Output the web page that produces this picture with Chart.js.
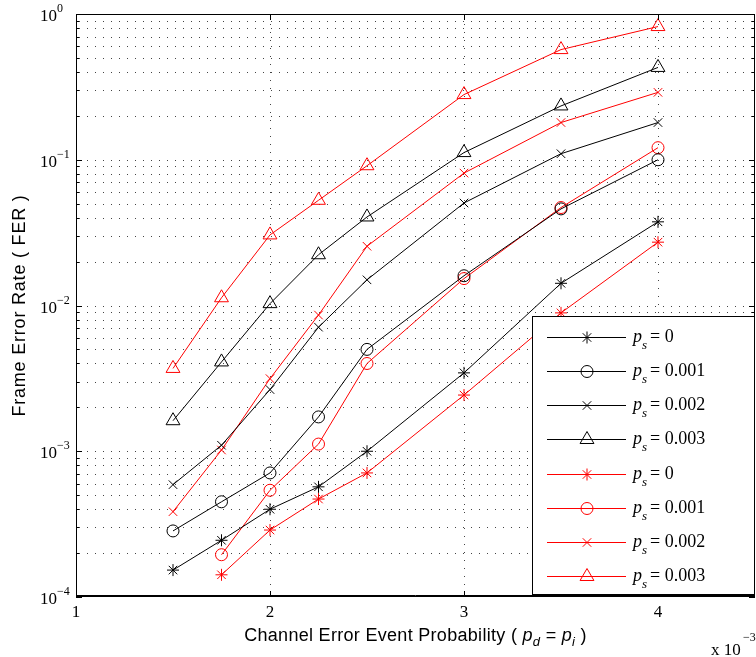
<!DOCTYPE html>
<html><head><meta charset="utf-8">
<script src="https://cdn.jsdelivr.net/npm/chart.js@4.4.1/dist/chart.umd.min.js"></script>
<style>html,body{margin:0;padding:0;background:#fff}#wrap{position:relative;width:756px;height:657px}</style>
</head><body><div id="wrap"><canvas id="c" width="756" height="657"></canvas></div>
<script>
// ---- data ----
const xValues = [1.5, 1.75, 2, 2.25, 2.5, 3, 3.5, 4];
const blackPs0   = [1.53e-4, 2.45e-4, 4.0e-4, 5.7e-4, 1.0e-3, 3.45e-3, 1.42e-2, 3.75e-2];
const blackPs001 = [2.84e-4, 4.5e-4, 7.1e-4, 1.72e-3, 5.0e-3, 1.6e-2, 4.6e-2, 0.1];
const blackPs002 = [5.9e-4, 1.1e-3, 2.65e-3, 7.1e-3, 1.5e-2, 5.05e-2, 0.11, 0.18];
const blackPs003 = [1.62e-3, 4.1e-3, 1.03e-2, 2.23e-2, 4.05e-2, 0.112, 0.234, 0.43];
const redPs0     = [null, 1.42e-4, 2.88e-4, 4.7e-4, 7.1e-4, 2.43e-3, 8.9e-3, 2.72e-2];
const redPs001   = [null, 1.95e-4, 5.4e-4, 1.12e-3, 4.0e-3, 1.53e-2, 4.7e-2, 0.121];
const redPs002   = [3.85e-4, 1.02e-3, 3.15e-3, 8.6e-3, 2.55e-2, 8.1e-2, 0.18, 0.29];
const redPs003   = [3.7e-3, 1.13e-2, 3.05e-2, 5.27e-2, 9.1e-2, 0.28, 0.57, 0.82];
const seriesLabels = ['0', '0.001', '0.002', '0.003', '0', '0.001', '0.002', '0.003'];
const xTickValues = [1, 2, 3, 4];
const xTickLabels = ['1', '2', '3', '4'];
const yTickExps = [0, -1, -2, -3, -4];
const yTitle = 'Frame Error Rate ( FER )';
const xTitle = 'Channel Error Event Probability ( ';

// ---- styles ----
const BLACK = '#000000', RED = '#ff0000';
const seriesData = [blackPs0, blackPs001, blackPs002, blackPs003, redPs0, redPs001, redPs002, redPs003];
const seriesColors = [BLACK, BLACK, BLACK, BLACK, RED, RED, RED, RED];
const seriesMarkers = ['star', 'circle', 'crossRot', 'triangle', 'star', 'circle', 'crossRot', 'triangle'];
const markerRadius = {star: 6, circle: 6, crossRot: 6, triangle: 8};

function toPoints(arr) {
  const pts = [];
  arr.forEach((v, i) => { if (v !== null) pts.push({x: xValues[i], y: v}); });
  return pts;
}

const datasets = seriesData.map((arr, i) => ({
  label: 'p_s = ' + seriesLabels[i],
  data: toPoints(arr),
  borderColor: seriesColors[i],
  borderWidth: 1,
  pointStyle: seriesMarkers[i],
  pointRadius: markerRadius[seriesMarkers[i]],
  pointHoverRadius: markerRadius[seriesMarkers[i]],
  pointBorderColor: seriesColors[i],
  pointBackgroundColor: 'rgba(0,0,0,0)',
  pointBorderWidth: 1,
  fill: false,
  tension: 0
}));

const SERIF = '"Liberation Serif", "Times New Roman", serif';
const SANS = '"Liberation Sans", Arial, sans-serif';

function drawMarker(ctx, style, x, y, r, color) {
  ctx.save();
  ctx.strokeStyle = color; ctx.lineWidth = 1; ctx.setLineDash([]);
  ctx.beginPath();
  if (style === 'circle') {
    ctx.arc(x, y, r, 0, Math.PI * 2);
  } else if (style === 'triangle') {
    const a = Math.PI * 2 / 3;
    ctx.moveTo(x, y - r);
    ctx.lineTo(x + Math.sin(a) * r, y - Math.cos(a) * r);
    ctx.lineTo(x - Math.sin(a) * r, y - Math.cos(a) * r);
    ctx.closePath();
  } else if (style === 'crossRot') {
    const d = Math.cos(Math.PI / 4) * r;
    ctx.moveTo(x - d, y - d); ctx.lineTo(x + d, y + d);
    ctx.moveTo(x - d, y + d); ctx.lineTo(x + d, y - d);
  } else if (style === 'star') {
    ctx.moveTo(x, y - r); ctx.lineTo(x, y + r);
    ctx.moveTo(x - r, y); ctx.lineTo(x + r, y);
    const d = Math.cos(Math.PI / 4) * r;
    ctx.moveTo(x - d, y - d); ctx.lineTo(x + d, y + d);
    ctx.moveTo(x - d, y + d); ctx.lineTo(x + d, y - d);
  }
  ctx.stroke();
  ctx.restore();
}

const gridPlugin = {
  id: 'matlabGrid',
  beforeDatasetsDraw(chart) {
    const {ctx, chartArea: a, scales} = chart;
    const xs = scales.x, ys = scales.y;
    ctx.save();
    ctx.strokeStyle = '#444';
    ctx.lineWidth = 1;
    ctx.setLineDash([1, 7]);
    for (let e = -4; e < 0; e++) {
      for (let m = 1; m <= 9; m++) {
        const v = m * Math.pow(10, e);
        if (e === -4 && m === 1) continue;
        const py = Math.round(ys.getPixelForValue(v)) + 0.5;
        ctx.beginPath(); ctx.moveTo(a.left + 3, py); ctx.lineTo(a.right, py); ctx.stroke();
      }
    }
    xTickValues.forEach(v => {
      if (v <= xs.min || v >= xs.max) return;
      const px = Math.round(xs.getPixelForValue(v)) + 0.5;
      ctx.beginPath(); ctx.moveTo(px, a.top + 2); ctx.lineTo(px, a.bottom); ctx.stroke();
    });
    ctx.restore();
  },
  afterDraw(chart) {
    const {ctx, chartArea: a, scales} = chart;
    const xs = scales.x, ys = scales.y;
    ctx.save();
    ctx.setLineDash([]);
    ctx.strokeStyle = '#000';
    ctx.lineWidth = 1;
    ctx.beginPath();
    for (let e = -4; e <= 0; e++) {
      for (let m = 1; m <= 9; m++) {
        if (e === 0 && m > 1) break;
        const v = m * Math.pow(10, e);
        const py = Math.round(ys.getPixelForValue(v)) + 0.5;
        const len = m === 1 ? 6 : 3;
        ctx.moveTo(a.left, py); ctx.lineTo(a.left + len, py);
        ctx.moveTo(a.right, py); ctx.lineTo(a.right - len, py);
      }
    }
    xTickValues.forEach(v => {
      const px = Math.round(xs.getPixelForValue(v)) + 0.5;
      ctx.moveTo(px, a.bottom); ctx.lineTo(px, a.bottom - 6);
      ctx.moveTo(px, a.top); ctx.lineTo(px, a.top + 6);
    });
    ctx.stroke();
    ctx.strokeRect(a.left + 0.5, a.top + 0.5, a.right - a.left - 1, a.bottom - a.top - 1);
    ctx.beginPath(); ctx.moveTo(a.left, a.bottom - 1.5); ctx.lineTo(a.right, a.bottom - 1.5); ctx.stroke();

    ctx.fillStyle = '#000';
    yTickExps.forEach(e => {
      const py = ys.getPixelForValue(Math.pow(10, e));
      ctx.font = '17px ' + SERIF;
      ctx.textAlign = 'right'; ctx.textBaseline = 'alphabetic';
      ctx.fillText('10', 57, py + 7);
      ctx.font = '12px ' + SERIF;
      ctx.textAlign = 'left';
      ctx.fillText(e === 0 ? '0' : '\u2212' + (-e), 57, py - 2);
    });
    ctx.font = '17px ' + SERIF;
    ctx.textAlign = 'center';
    xTickValues.forEach((v, i) => {
      ctx.fillText(xTickLabels[i], xs.getPixelForValue(v), 617);
    });
    ctx.textAlign = 'left';
    ctx.font = '17px ' + SERIF;
    ctx.fillText('x 10', 711, 655);
    ctx.font = '12px ' + SERIF;
    ctx.fillText('\u22123', 743, 641);

    ctx.save();
    ctx.translate(25, (a.top + a.bottom) / 2);
    ctx.rotate(-Math.PI / 2);
    ctx.font = '18px ' + SANS;
    try { ctx.letterSpacing = '0.8px'; } catch (err) {}
    ctx.textAlign = 'center';
    ctx.fillText(yTitle, 0, 0);
    ctx.restore();

    ctx.save();
    try { ctx.letterSpacing = '0.3px'; } catch (err) {}
    const pieces = [
      {t: xTitle, f: '18px ' + SANS, dy: 0},
      {t: 'p', f: 'italic 18px ' + SANS, dy: 0},
      {t: 'd', f: 'italic 13px ' + SANS, dy: 5},
      {t: ' = ', f: '18px ' + SANS, dy: 0},
      {t: 'p', f: 'italic 18px ' + SANS, dy: 0},
      {t: 'i', f: 'italic 13px ' + SANS, dy: 5},
      {t: ' )', f: '18px ' + SANS, dy: 0}
    ];
    let tw = 0;
    pieces.forEach(p => { ctx.font = p.f; p.w = ctx.measureText(p.t).width; tw += p.w; });
    let cx = (a.left + a.right) / 2 - tw / 2;
    ctx.textAlign = 'left';
    pieces.forEach(p => { ctx.font = p.f; ctx.fillText(p.t, cx, 641 + p.dy); cx += p.w; });
    ctx.restore();

    const L = {left: 532, top: 316, right: 755, bottom: 595};
    ctx.fillStyle = '#fff';
    ctx.fillRect(L.left, L.top, L.right - L.left, L.bottom - L.top);
    ctx.strokeStyle = '#000';
    ctx.strokeRect(L.left + 0.5, L.top + 0.5, L.right - L.left - 1, L.bottom - L.top - 1);
    chart.data.datasets.forEach((ds, i) => {
      const ry = Math.round(337 + i * 34.15) + 0.5;
      ctx.strokeStyle = ds.borderColor;
      ctx.beginPath(); ctx.moveTo(547, ry); ctx.lineTo(626, ry); ctx.stroke();
      drawMarker(ctx, ds.pointStyle, 587, ry, ds.pointRadius, ds.borderColor);
      ctx.fillStyle = '#000';
      ctx.font = 'italic 18px ' + SERIF;
      ctx.fillText('p', 633, ry + 4);
      ctx.font = 'italic 13px ' + SERIF;
      ctx.fillText('s', 642, ry + 11);
      ctx.font = '18px ' + SERIF;
      ctx.fillText('= ' + seriesLabels[i], 650, ry + 4);
    });
    ctx.restore();
  }
};

new Chart(document.getElementById('c'), {
  type: 'line',
  data: {datasets},
  options: {
    responsive: false,
    animation: false,
    devicePixelRatio: 1,
    layout: {autoPadding: false, padding: {left: 0, top: 14, right: 1, bottom: 0}},
    plugins: {legend: {display: false}, tooltip: {enabled: false}, title: {display: false}},
    scales: {
      x: {
        type: 'linear', min: 1, max: 4.5,
        ticks: {display: false}, grid: {display: false}, border: {display: false},
        afterFit(s) { s.height = 60; }
      },
      y: {
        type: 'logarithmic', min: 1e-4, max: 1,
        ticks: {display: false}, grid: {display: false}, border: {display: false},
        afterFit(s) { s.width = 76; }
      }
    }
  },
  plugins: [gridPlugin]
});
</script></body></html>
